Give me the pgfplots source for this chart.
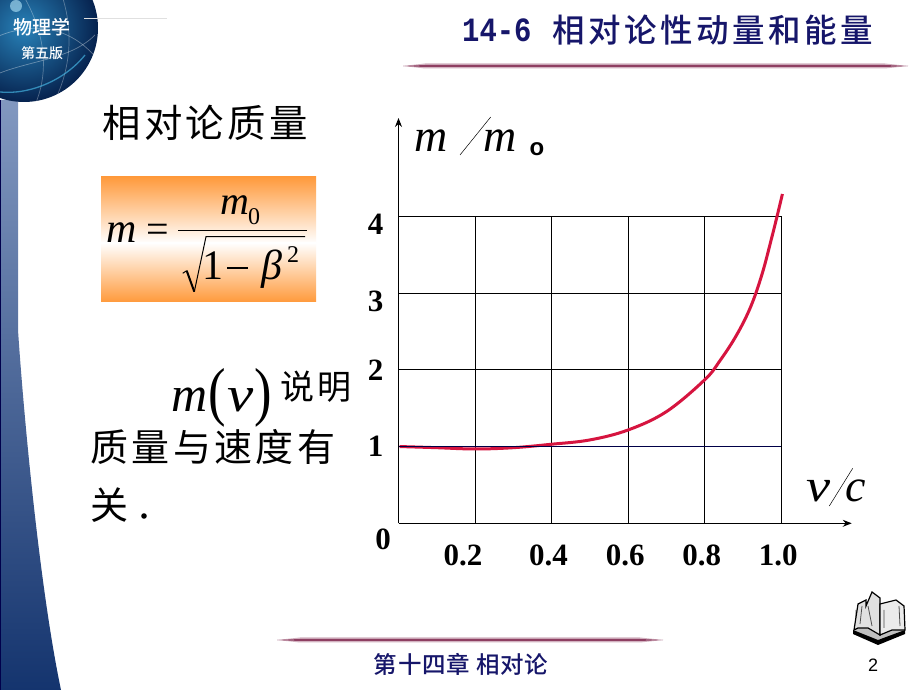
\documentclass[border=0pt]{standalone}
\usepackage{fontspec}
\usepackage{pgfplots}
\usetikzlibrary{arrows.meta}
\pgfplotsset{compat=1.18}
\setmainfont{Liberation Serif}
\newfontfamily\cjk{Noto Sans CJK SC}
\newfontfamily\cjkm{Noto Sans CJK SC Medium}
\newfontfamily\cjkls[LetterSpace=9]{Noto Sans CJK SC}
\newfontfamily\sans{Liberation Sans}
\newfontfamily\mono{Liberation Mono}
\definecolor{navy}{HTML}{16166A}
\definecolor{curve}{HTML}{D6143F}
\definecolor{rulec}{HTML}{8E3F62}
\definecolor{orangeb}{HTML}{FF9A3C}
\newcommand{\fs}[1]{\fontsize{#1}{#1}\selectfont}
\begin{document}
\begin{tikzpicture}
\useasboundingbox (0,0) rectangle (920pt,690pt);
\fill[white] (0,0) rectangle (920pt,690pt);
\begin{scope}[x=1pt,y=-1pt,shift={(0pt,690pt)}]
  % left bar
  \shade[top color={rgb,255:red,130;green,152;blue,192},middle color={rgb,255:red,62;green,96;blue,150},bottom color={rgb,255:red,20;green,52;blue,110}]
    (0,100) -- (18,100) -- (18,330) .. controls (24,420) and (40,590) .. (61,690) -- (0,690) -- cycle;
  \fill[black!70!blue] (0,100) rectangle (1.2,690);
  % globe
  \begin{scope}
    \clip (24,28) circle (74);
    \shade[inner color={rgb,255:red,40;green,130;blue,185},outer color={rgb,255:red,6;green,34;blue,78}] (24,28) circle (74);
    \draw[white,opacity=.35,line width=.7] (-10,40) .. controls (30,20) and (70,25) .. (98,60);
    \draw[white,opacity=.35,line width=.7] (-5,75) .. controls (30,60) and (70,60) .. (95,35);
    \draw[white,opacity=.3,line width=.7] (20,-10) .. controls (45,30) and (50,70) .. (35,105);
    \draw[white,opacity=.3,line width=.7] (60,-10) .. controls (75,30) and (70,70) .. (55,100);
    \draw[cyan!70!white,opacity=.6,line width=1.3] (0,92) .. controls (30,95) and (65,80) .. (85,55);
    \fill[cyan!30!white,opacity=.6] (16,6) circle (6);
  \end{scope}
  \draw[black!12,line width=.6] (84,18) -- (167,18);
  \node[white,anchor=center,inner sep=0] at (42,27) {\cjkm\fs{19}物理学};
  \node[white,anchor=center,inner sep=0] at (42,53) {\cjkm\fs{14}第五版};
  % title
  \node[navy,anchor=west,inner sep=0] at (462,30) {\scalebox{.85}[1]{\mono\bfseries\fs{34}14-6}};
  \node[navy,anchor=west,inner sep=0] at (552,30) {\cjkm\addfontfeature{LetterSpace=11}\fs{32.5}相对论性动量和能量};
  % rules
  \fill[rulec!40!white] (403,66) -- (425,63.5) -- (885,63.5) -- (908,66) -- (885,68.5) -- (425,68.5) -- cycle;
  \fill[rulec] (403,66) -- (425,65) -- (885,65) -- (908,66) -- (885,67) -- (425,67) -- cycle;
  \fill[rulec!40!white] (277,640) -- (300,637.5) -- (640,637.5) -- (663,640) -- (640,642.5) -- (300,642.5) -- cycle;
  \fill[rulec] (277,640) -- (300,639) -- (640,639) -- (663,640) -- (640,641) -- (300,641) -- cycle;
  % footer
  \node[navy,anchor=center,inner sep=0] at (461,664) {\cjkm\addfontfeature{LetterSpace=3}\fs{23.5}第十四章 相对论};
  \node[black,anchor=center,inner sep=0] at (873,665) {\sans\fs{18}2};
  % book
  \fill[black!25] (855,632) -- (878,640) -- (903,632) -- (903,610) -- (855,610) -- cycle;
  \draw[black,line width=1.2,fill=black!12] (854,630) -- (858,604) -- (866,600) -- (866,606) -- (872,592) -- (880,598) -- (880,635) -- (868,628) -- (858,628) -- cycle;
  \draw[black,line width=1.2,fill=black!8] (880,635) -- (880,604) -- (896,600) -- (904,606) -- (905,630) -- (892,630) -- cycle;
  \fill[black] (853,630) -- (878,640) -- (905,630) -- (905,634) -- (878,645) -- (853,634) -- cycle;
  \draw[black!70,line width=.8] (868,606) -- (872,626) (862,606) -- (860,624) (884,610) -- (884,628) (899,606) -- (900,626);
  % left title
  \node[black,anchor=west,inner sep=0] at (102,123) {\cjkls\fs{38.4}相对论质量};
  % formula box
  \shade[top color=orangeb,bottom color=white] (101,177) rectangle (316,243);
  \shade[top color=white,bottom color=orangeb] (101,242.9) rectangle (316,302);
  \begin{scope}[every node/.style={inner sep=0,black}]
    \node[anchor=base] at (122,243) {\itshape\fs{42}m};
    \node[anchor=base] at (158,243) {\fs{40}=};
    \draw[black,line width=1.1] (178,230.7) -- (307,230.7);
    \node[anchor=base] at (235,215) {\itshape\fs{40}m};
    \node[anchor=base] at (254,225) {\fs{24}0};
    \draw[black,line width=1,line join=miter] (182.7,273.3) -- (186.7,270.7);
    \draw[black,line width=2] (186.7,270.7) -- (194.3,291.7);
    \draw[black,line width=1,line join=miter] (194.3,291.7) -- (206,236.7) -- (305,236.7);
    \node[anchor=base] at (213,280) {\fs{42}1};
    \draw[black,line width=1.2] (227,268) -- (248,268);
    \node[anchor=base] at (272,280) {\itshape\fs{42}β};
    \node[anchor=base] at (293,263) {\fs{24}2};
  \end{scope}
  % m(v)
  \node[black,anchor=base west,inner sep=0] at (171,412) {\fs{50}\textit{m}};
  \node[black,anchor=base west,inner sep=0] at (208,414) {\scalebox{1.05}[1.3]{\fs{50}(}};
  \node[black,anchor=base west,inner sep=0] at (227,412) {\scalebox{1.18}[1]{\fs{50}\textit{v}}};
  \node[black,anchor=base east,inner sep=0] at (272,414) {\scalebox{1.05}[1.3]{\fs{50})}};
  \node[black,anchor=center,inner sep=0] at (316,387) {\cjkls\fs{34}说明};
  \node[black,anchor=west,inner sep=0] at (90,447) {\cjkls\fs{38}质量与速度有};
  \node[black,anchor=west,inner sep=0] at (90,505) {\cjkls\fs{38}关};
  \fill[black] (144,516) circle (2.8);
  % slashes
  \draw[black,line width=.5] (460,155) -- (490.7,117);
  \draw[black,line width=.5] (829.3,506) -- (852.7,468.3);
\end{scope}
\begin{axis}[
  at={(398.5pt,166.7pt)},anchor=south west,
  scale only axis,width=453.2pt,height=405.3pt,
  xmin=0,xmax=1.184,ymin=0,ymax=5.28,
  axis lines=left,
  axis line style={-{Stealth[length=9pt,width=7pt,inset=3pt]},line width=.9pt,black},
  major tick length=0pt,
  xtick={0,0.2,0.4,0.6,0.8,1.0},
  ytick={1,2,3,4},
  xticklabels={{\kern-31pt\raisebox{6pt}[9pt][9pt]{0}},{\kern-24pt 0.2},{\kern-6pt 0.4},{\kern-6pt 0.6},{\kern-6pt 0.8},{\kern-6pt 1.0}},
  yticklabels={1,2,{\raisebox{-18pt}[9pt][9pt]{3}},{\raisebox{-18pt}[9pt][9pt]{4}}},
  tick label style={font=\bfseries\fontsize{31}{31}\selectfont,black},
  xticklabel style={anchor=center,yshift=-32pt},
  yticklabel style={anchor=center,xshift=-23pt},
  xlabel={\itshape\fontsize{46}{46}\selectfont \scalebox{1.18}[1]{v}\hspace{15pt}c},
  ylabel={\fontsize{46}{46}\selectfont\textit{m}\hspace{36pt}\textit{m}\hspace{13pt}\raisebox{-4pt}{\sans\bfseries\fontsize{24}{24}\selectfont o}},
  xlabel style={at={(axis description cs:.9007,.0533)},anchor=base west,inner sep=0pt},
  ylabel style={at={(axis description cs:.034,.917)},anchor=base west,rotate=-90,inner sep=0pt},
  clip=false,
]
\addplot[black,line width=.9pt,forget plot,unbounded coords=jump] coordinates {
 (0.2,0)(0.2,4)(nan,nan)(0.4,0)(0.4,4)(nan,nan)(0.6,0)(0.6,4)(nan,nan)(0.8,0)(0.8,4)(nan,nan)(1.0,0)(1.0,4)(nan,nan)
 (0,2)(1,2)(nan,nan)(0,3)(1,3)(nan,nan)(0,4)(1,4)};
\addplot[curve,line width=3pt,smooth,tension=.6,forget plot] coordinates {
 (0.003,1.0)(0.1,0.985)(0.2,0.968)(0.3,0.985)(0.4,1.03)(0.5,1.086)(0.6,1.216)(0.7,1.455)(0.8,1.87)(0.84,2.12)(0.883,2.45)(0.92,2.82)(0.95,3.25)(0.975,3.72)(0.99,4.02)(1.003,4.29)};
\addplot[black!60!blue!70!black,line width=.8pt,forget plot] coordinates {(0,1)(1,1)};
\end{axis}
\end{tikzpicture}
\end{document}
